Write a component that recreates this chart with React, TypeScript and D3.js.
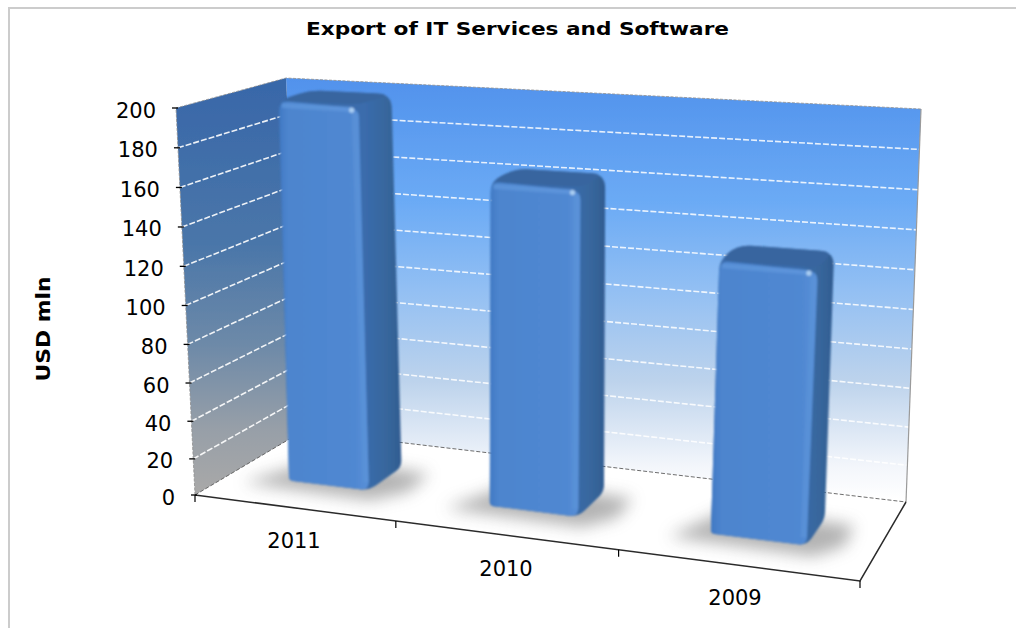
import React from "react";
import * as d3 from "d3";

const title = "Export of IT Services and Software";
const axisTitle = "USD mln";
const categories = ["2011", "2010", "2009"];
const values = [200, 165, 134];
const yTicks = [0, 20, 40, 60, 80, 100, 120, 140, 160, 180, 200];

type Pt = [number, number];
const W = 1016, H = 628;
// 3D frame of the plot as projected on the page
const FL: Pt = [195, 495], FR: Pt = [860, 581], BR: Pt = [906, 502], BL: Pt = [303, 431];
const TFL: Pt = [176, 108], TFR: Pt = [884, 140], TBR: Pt = [921, 109], TBL: Pt = [286, 78];

const lerp = (a: Pt, b: Pt, t: number): Pt => [a[0] + (b[0] - a[0]) * t, a[1] + (b[1] - a[1]) * t];
const bil = (a: Pt, b: Pt, c: Pt, d: Pt, u: number, v: number): Pt => lerp(lerp(a, b, u), lerp(d, c, u), v);
const hScale = d3.scalePow().exponent(1.03).domain([0, 200]).range([0, 1]);
const uScale = d3.scaleLinear().domain([0, 1, 2, 3]).range([0, 0.302, 0.637, 1]);
const project = (u: number, v: number, val: number): Pt =>
  lerp(bil(FL, FR, BR, BL, u, v), bil(TFL, TFR, TBR, TBL, u, v), hScale(val));

const poly = (p: Pt[]) => "M" + p.map((q) => q.join(",")).join("L") + "Z";
function roundPoly(p: Pt[], r: number | number[]) {
  const n = p.length;
  let s = "";
  p.forEach((c, i) => {
    const a = p[(i + n - 1) % n], b = p[(i + 1) % n];
    const rad = Array.isArray(r) ? r[i] : r;
    const da = Math.hypot(a[0] - c[0], a[1] - c[1]), db = Math.hypot(b[0] - c[0], b[1] - c[1]);
    const s1 = lerp(c, a, Math.min(rad / da, 0.5)), s2 = lerp(c, b, Math.min(rad / db, 0.5));
    s += (i ? "L" : "M") + s1.join(",") + "Q" + c.join(",") + " " + s2.join(",");
  });
  return s + "Z";
}

const V0 = 0.34, V1 = 0.685, BAR = 0.41;

function Bar({ i, value }: { i: number; value: number }) {
  const a = uScale(i), b = uScale(i + 1), c = (a + b) / 2, w = (b - a) * BAR;
  const u0 = c - w / 2, u1 = c + w / 2;
  const fbl = project(u0, V0, 0), fbr = project(u1, V0, 0), bbr = project(u1, V1, 0);
  const ftl0 = project(u0, V0, value), ftr = project(u1, V0, value), btr = project(u1, V1, value), btl = project(u0, V1, value);
  const ftl: Pt = [ftl0[0] + 5 * (1 - u0), ftl0[1]];
  const spec = lerp(ftr, ftl, 0.09);
  return (
    <g>
      <path d={poly([project(u0 - 0.055, V0 - 0.1, 0), project(u1 + 0.02, V0 - 0.12, 0), project(u1 + 0.055, V0 + 0.05, 0), project(u1 + 0.05, V1 - 0.04, 0), project(u0, V1, 0)])}
        fill="#6e6e6e" opacity={0.52} filter="url(#shadowBlur)" />
      <g filter="url(#soft)">
        <path d={roundPoly([fbl, fbr, bbr, btr, btl, ftl], [4, 9, 7, 14, 14, 10])} fill="url(#sideGrad)" />
        <path d={roundPoly([ftl, ftr, btr, btl], [12, 10, 14, 12])} fill="#38659f" />
        <path d={roundPoly([fbl, fbr, [ftr[0], ftr[1] + 4], [ftl[0], ftl[1]]], [4, 9, 9, 11])} fill="url(#frontGrad)" />
        <path d={`M${ftl[0] + 3},${ftl[1] + 5}L${ftr[0] - 7},${ftr[1] + 5}`} stroke="#5f97dc" strokeWidth={5} opacity={0.75} fill="none" />
        <path d={`M${ftr[0] - 4},${ftr[1] + 8}L${fbr[0] - 3},${fbr[1] - 8}`} stroke="#5c93d8" strokeWidth={6} opacity={0.65} fill="none" />
        <circle cx={spec[0]} cy={spec[1] + 6} r={2.6} fill="#a9cdf2" />
      </g>
    </g>
  );
}

export default function App() {
  const labelX = d3.scaleLinear().domain([0, 1, 2]).range([294, 506, 735]);
  const labelY = d3.scaleLinear().domain([0, 1, 2]).range([548, 576, 605]);
  const grid = yTicks.filter((t) => t > 0 && t < 200);
  const wallEdge = "#9a9a9a";
  return (
    <svg width={W} height={H} style={{ position: "absolute", left: 0, top: 0, background: "#fff" }}>
      <defs>
        <linearGradient id="backGrad" gradientUnits="userSpaceOnUse" x1="0" y1="78" x2="0" y2="500">
          <stop offset="0" stopColor="#5192ec" />
          <stop offset="0.3" stopColor="#6cabf5" />
          <stop offset="0.5" stopColor="#92bff3" />
          <stop offset="0.72" stopColor="#bdd3ec" />
          <stop offset="0.92" stopColor="#f3f6fb" />
          <stop offset="1" stopColor="#ffffff" />
        </linearGradient>
        <linearGradient id="leftGrad" gradientUnits="userSpaceOnUse" x1="0" y1="80" x2="0" y2="490">
          <stop offset="0" stopColor="#3867a9" />
          <stop offset="0.4" stopColor="#4a76a9" />
          <stop offset="0.65" stopColor="#6e8aa8" />
          <stop offset="0.85" stopColor="#979fa8" />
          <stop offset="1" stopColor="#a8a8a8" />
        </linearGradient>
        <linearGradient id="frontGrad" x1="0" x2="1" y1="0" y2="0">
          <stop offset="0" stopColor="#4079c4" />
          <stop offset="0.1" stopColor="#4d85ce" />
          <stop offset="0.85" stopColor="#5088d2" />
          <stop offset="1" stopColor="#5890d8" />
        </linearGradient>
        <linearGradient id="sideGrad" x1="0" x2="1" y1="0" y2="0">
          <stop offset="0.7" stopColor="#3a6cac" />
          <stop offset="0.93" stopColor="#366498" />
          <stop offset="1" stopColor="#2f5a90" />
        </linearGradient>
        <filter id="soft" x="-10%" y="-10%" width="120%" height="120%"><feGaussianBlur stdDeviation="0.8" /></filter>
        <filter id="wallSoft" x="-5%" y="-5%" width="110%" height="110%"><feGaussianBlur stdDeviation="0.45" /></filter>
        <filter id="shadowBlur" x="-40%" y="-60%" width="180%" height="220%"><feGaussianBlur stdDeviation="8" /></filter>
      </defs>

      <path d="M9,628V8H1016" fill="none" stroke="#cccccc" strokeWidth={2} />

      <text x={517.5} y={35} textAnchor="middle" fontFamily="DejaVu Sans" fontWeight="bold" fontSize={18.5} textLength={423} lengthAdjust="spacingAndGlyphs" fill="#000">{title}</text>

      <g filter="url(#wallSoft)">
        <path d={poly([TBL, TBR, BR, BL])} fill="url(#backGrad)" />
        <path d={poly([TFL, TBL, BL, FL])} fill="url(#leftGrad)" />
        {grid.map((t) => {
          const h = hScale(t);
          const a = lerp(FL, TFL, h), b = lerp(BL, TBL, h), c = lerp(BR, TBR, h);
          return (
            <g key={t} fill="none" stroke="#ffffff" strokeWidth={1.6} strokeDasharray="6 2">
              <path d={`M${a}L${b}`} opacity={0.9} />
              <path d={`M${b}L${c}`} opacity={0.85} />
            </g>
          );
        })}
        <path d={`M${FL}L${TFL}L${TBL}L${TBR}`} fill="none" stroke="#8f8f8f" strokeWidth={1} strokeDasharray="3 1.5" opacity={0.8} />
        <path d={`M${TBR}L${BR}`} fill="none" stroke={wallEdge} strokeWidth={1.2} />
        <path d={`M${FL}L${BL}L${BR}`} fill="none" stroke="#555" strokeWidth={1} strokeDasharray="4 2" opacity={0.85} />
        <path d={`M${FL}L${FR}L${BR}`} fill="none" stroke="#2b2b2b" strokeWidth={1.5} />
      </g>

      {values.map((v, i) => <Bar key={categories[i]} i={i} value={v} />)}

      {yTicks.map((t) => {
        const p = lerp(FL, TFL, hScale(t));
        return (
          <g key={t}>
            <line x1={p[0] - 4} x2={p[0] + 2} y1={p[1]} y2={p[1]} stroke="#000" strokeWidth={1.3} />
            <text x={p[0] - 20} y={p[1] + 9.5} textAnchor="end" fontFamily="DejaVu Sans" fontSize={21} fill="#000">{t}</text>
          </g>
        );
      })}

      {d3.range(categories.length + 1).map((i) => {
        const p = lerp(FL, FR, uScale(i));
        return <line key={i} x1={p[0]} x2={p[0]} y1={p[1]} y2={p[1] + 7} stroke="#000" strokeWidth={1.2} />;
      })}
      {categories.map((c, i) => (
        <text key={c} x={labelX(i)} y={labelY(i)} textAnchor="middle" fontFamily="DejaVu Sans" fontSize={21} fill="#000">{c}</text>
      ))}

      <text transform="translate(50,329) rotate(-90)" textAnchor="middle" fontFamily="DejaVu Sans" fontWeight="bold" fontSize={19} textLength={105} lengthAdjust="spacingAndGlyphs" fill="#000">{axisTitle}</text>
    </svg>
  );
}
